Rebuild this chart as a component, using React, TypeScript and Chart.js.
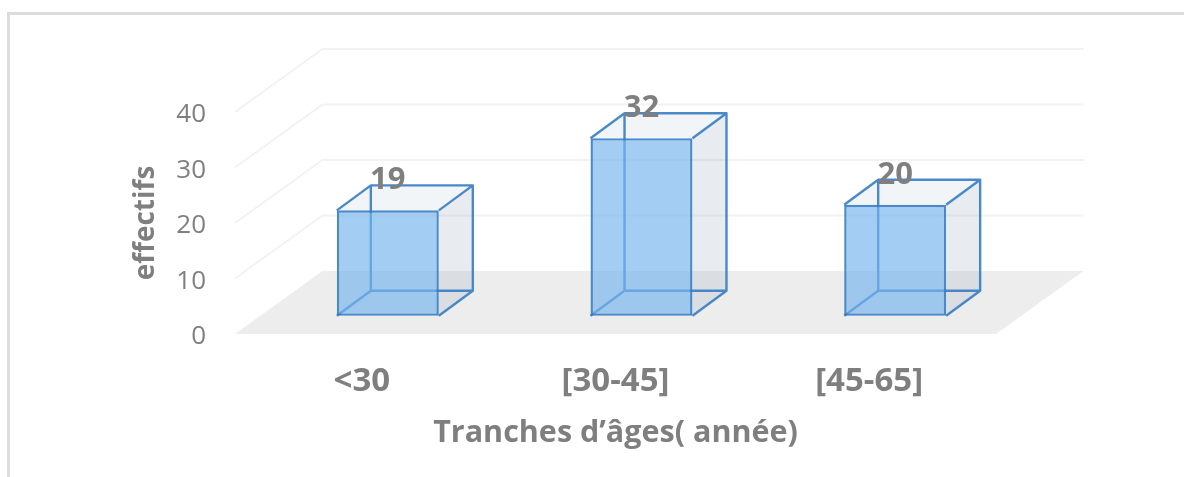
import React, { useEffect, useRef } from "react";
import { Chart, registerables } from "chart.js";

Chart.register(...registerables);

const categories = ["<30", "[30-45]", "[45-65]"];
const effectifs = [19, 32, 20];
const yTicks = [0, 10, 20, 30, 40];
const xTitle = "Tranches d’âges( année)";
const yTitle = "effectifs";

const WALL_DX = 87.5;
const WALL_DY = -63;
const BAR_DX = 26;
const BAR_DY = -18.2;
const DEPTH_DX = 34;
const DEPTH_DY = -25;
const EDGE = "rgba(55,125,195,0.9)";
const TEXT = "#7f7f7f";
const FONT = "'Open Sans'";

const scene = {
  id: "scene",
  beforeDatasetsDraw(chart: any) {
    const { ctx, chartArea: a, scales } = chart;
    const y0 = scales.y.getPixelForValue(0);
    ctx.save();
    ctx.fillStyle = "#ededed";
    ctx.beginPath();
    ctx.moveTo(a.left, y0);
    ctx.lineTo(a.right, y0);
    ctx.lineTo(a.right + WALL_DX, y0 + WALL_DY);
    ctx.lineTo(a.left + WALL_DX, y0 + WALL_DY);
    ctx.closePath();
    ctx.fill();
    ctx.strokeStyle = "#f2f2f2";
    ctx.lineWidth = 2;
    for (const t of yTicks.slice(1)) {
      const p = scales.y.getPixelForValue(t);
      ctx.beginPath();
      ctx.moveTo(a.left, p);
      ctx.lineTo(a.left + WALL_DX, p + WALL_DY);
      ctx.lineTo(a.right + WALL_DX, p + WALL_DY);
      ctx.stroke();
    }
    ctx.restore();
  },
  beforeDatasetDraw(chart: any, args: any) {
    const { ctx } = chart;
    ctx.save();
    ctx.translate(BAR_DX, BAR_DY);
    for (const el of args.meta.data) {
      const { x, y, base, width } = el.getProps(["x", "y", "base", "width"], true);
      const l = x - width / 2;
      const r = x + width / 2;
      const bx = DEPTH_DX;
      const by = DEPTH_DY;
      ctx.fillStyle = "rgba(150,170,185,0.22)";
      ctx.beginPath();
      ctx.moveTo(r, y);
      ctx.lineTo(r + bx, y + by);
      ctx.lineTo(r + bx, base + by);
      ctx.lineTo(r, base);
      ctx.closePath();
      ctx.fill();
      ctx.fillStyle = "rgba(190,210,225,0.22)";
      ctx.beginPath();
      ctx.moveTo(l, y);
      ctx.lineTo(l + bx, y + by);
      ctx.lineTo(r + bx, y + by);
      ctx.lineTo(r, y);
      ctx.closePath();
      ctx.fill();
      ctx.strokeStyle = EDGE;
      ctx.lineWidth = 2.4;
      ctx.lineJoin = "round";
      ctx.beginPath();
      ctx.moveTo(l, y);
      ctx.lineTo(l + bx, y + by);
      ctx.lineTo(r + bx, y + by);
      ctx.lineTo(r, y);
      ctx.moveTo(l + bx, y + by);
      ctx.lineTo(l + bx, base + by);
      ctx.lineTo(l, base);
      ctx.moveTo(l + bx, base + by);
      ctx.lineTo(r + bx, base + by);
      ctx.lineTo(r, base);
      ctx.moveTo(r + bx, y + by);
      ctx.lineTo(r + bx, base + by);
      ctx.stroke();
    }
  },
  afterDatasetDraw(chart: any, args: any) {
    const { ctx } = chart;
    ctx.fillStyle = TEXT;
    ctx.font = `bold 31px ${FONT}`;
    ctx.textAlign = "center";
    ctx.textBaseline = "middle";
    args.meta.data.forEach((el: any, i: number) => {
      ctx.fillText(String(effectifs[i]), el.x, el.y - 30);
    });
    ctx.restore();
  },
};

export default function App() {
  const ref = useRef<HTMLCanvasElement>(null);
  useEffect(() => {
    const chart = new Chart(ref.current!, {
      type: "bar",
      data: {
        labels: categories,
        datasets: [
          {
            label: yTitle,
            data: effectifs,
            backgroundColor: "rgba(118,180,237,0.67)",
            borderColor: EDGE,
            borderWidth: 2.4,
            borderSkipped: false,
            barPercentage: 0.402,
            categoryPercentage: 1,
            clip: false,
          },
        ],
      },
      options: {
        animation: false,
        responsive: false,
        layout: { padding: { left: 0, top: 112, right: 188, bottom: 0 } },
        plugins: { legend: { display: false }, tooltip: { enabled: false } },
        scales: {
          x: {
            grid: { display: false },
            border: { display: false },
            afterFit: (s: any) => {
              s.height = 143;
            },
            ticks: {
              color: TEXT,
              padding: 20,
              maxRotation: 0,
              autoSkip: false,
              font: { family: FONT, size: 33, weight: "bold" },
            },
            title: {
              display: true,
              text: xTitle,
              color: TEXT,
              padding: { top: 0, bottom: 25 },
              font: { family: FONT, size: 30.5, weight: "bold" },
            },
          },
          y: {
            min: 0,
            max: 40,
            grid: { display: false },
            border: { display: false },
            afterFit: (s: any) => {
              s.width = 235;
            },
            ticks: {
              stepSize: 10,
              color: TEXT,
              padding: 21,
              labelOffset: 3,
              font: { family: FONT, size: 26 },
            },
            title: {
              display: true,
              text: yTitle,
              color: TEXT,
              padding: { top: 129, bottom: 0 },
              font: { family: FONT, size: 28, weight: "bold" },
            },
          },
        },
      },
      plugins: [scene],
    } as any);
    return () => chart.destroy();
  }, []);
  return (
    <div style={{ position: "absolute", left: 0, top: 0, width: 1184, height: 477, overflow: "hidden", background: "#fff" }}>
      <div
        style={{
          position: "absolute",
          left: 7,
          top: 12,
          right: 0,
          bottom: 0,
          borderTop: "3px solid #dcdcdc",
          borderLeft: "3px solid #dcdcdc",
        }}
      />
      <canvas
        ref={ref}
        width={1184}
        height={477}
        style={{ position: "absolute", left: 0, top: 0, filter: "blur(0.5px)" }}
      />
    </div>
  );
}
